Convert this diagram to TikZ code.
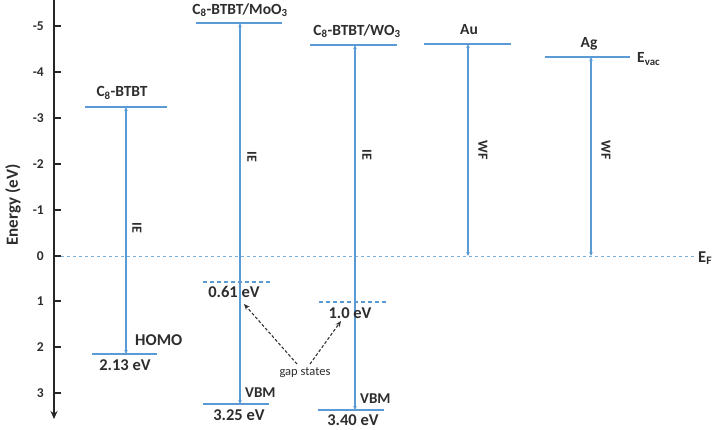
\documentclass[tikz,border=0pt]{standalone}
\usepackage{fontspec}
\setmainfont{Carlito}
\usetikzlibrary{arrows.meta}
\definecolor{lvl}{RGB}{91,155,213}
\definecolor{txt}{RGB}{45,45,45}
\tikzset{
  level/.style={draw=lvl, line width=2pt},
  gaplevel/.style={draw=lvl, line width=1.5pt, dash pattern=on 4pt off 3pt},
  fermi/.style={draw=lvl!80, line width=0.8pt, dash pattern=on 3pt off 3pt},
  ener/.style={draw=lvl, line width=1.5pt, {Stealth[length=4pt,width=3.5pt]}-{Stealth[length=4pt,width=3.5pt]}},
  gaparrow/.style={draw=black!80, line width=1.1pt, dash pattern=on 3pt off 2pt, -{Stealth[length=6pt,width=5pt]}},
  ttl/.style={text=txt, font=\fontsize{15.5}{17}\selectfont\bfseries, inner sep=1pt},
  blab/.style={text=txt, font=\fontsize{16.5}{18}\selectfont\bfseries, inner sep=1pt},
  vbm/.style={text=txt, font=\fontsize{15}{17}\selectfont\bfseries, inner sep=1pt},
  tick/.style={text=txt, font=\fontsize{13.5}{15}\selectfont\bfseries, anchor=east, inner sep=1pt},
  rlab/.style={text=txt, font=\fontsize{14}{16}\selectfont\bfseries, rotate=-90, inner sep=1pt},
}
\begin{document}
\begin{tikzpicture}[x=1pt,y=-1pt]
\useasboundingbox (0,0) rectangle (719,430);
% axis
\coordinate (axtop) at (54,0);
\coordinate (axbot) at (54,419);
\draw[black!85, line width=1.4pt, -{Stealth[length=8pt,width=7pt]}] (axtop) -- (axbot);
\foreach \v/\y in {-5/26,-4/72,-3/118,-2/164,-1/210,0/256,1/301,2/347,3/393}{
  \draw[black!85, line width=1.2pt] (54,\y) -- (61,\y);
  \node[tick] at (45,\y) {\v};
}
\node[text=txt, font=\fontsize{17}{19}\selectfont\bfseries, rotate=90] (ylab) at (13,205) {Energy (eV)};
% Fermi level
\coordinate (efL) at (61,256);
\coordinate (efR) at (695,256);
\draw[fermi] (efL) -- (efR);
\node[blab, anchor=west] (ef) at (697,258) {E\textsubscript{F}};

% C8-BTBT
\draw[level] (85,107) -- (167,107);
\draw[level] (92,354) -- (157,354);
\coordinate (b1t) at (126,107);
\coordinate (b1b) at (126,354);
\draw[ener] (b1t) -- (b1b);
\node[ttl] (n1) at (122,93) {C\textsubscript{8}-BTBT};
\node[blab, anchor=west] (homo) at (134,340) {HOMO};
\node[blab] (v1) at (125,365) {2.13 eV};
\node[rlab] (ie1) at (137,228) {IE};

% C8-BTBT/MoO3
\draw[level] (196,23) -- (282,23);
\draw[level] (203,404) -- (269,404);
\draw[gaplevel] (203,282) -- (271,282);
\coordinate (b2t) at (240,23);
\coordinate (b2b) at (240,404);
\draw[ener] (b2t) -- (b2b);
\node[ttl] (n2) at (240,10) {C\textsubscript{8}-BTBT/MoO\textsubscript{3}};
\node[vbm, anchor=west] (vbm2) at (244,393) {VBM};
\node[blab] (v2) at (239,415) {3.25 eV};
\node[blab] (g2) at (234,292) {0.61 eV};
\node[rlab] (ie2) at (252,157) {IE};

% C8-BTBT/WO3
\draw[level] (310,45) -- (397,45);
\draw[level] (318,410) -- (384,410);
\draw[gaplevel] (319,302) -- (387,302);
\coordinate (b3t) at (355,45);
\coordinate (b3b) at (355,410);
\draw[ener] (b3t) -- (b3b);
\node[ttl] (n3) at (357,31) {C\textsubscript{8}-BTBT/WO\textsubscript{3}};
\node[vbm, anchor=west] (vbm3) at (359,399) {VBM};
\node[blab, inner sep=0pt] (v3) at (353,420) {3.40 eV};
\node[blab] (g3) at (350,313) {1.0 eV};
\node[rlab] (ie3) at (367,155) {IE};

% gap states
\node[text=txt, font=\fontsize{12.5}{14}\selectfont] (gs) at (305,373) {gap states};
\coordinate (gsL) at (297,364);
\coordinate (gsR) at (310,364);
\coordinate (gaL) at (244,304);
\coordinate (gaR) at (341,321);
\draw[gaparrow] (gsL) -- (gaL);
\draw[gaparrow] (gsR) -- (gaR);

% Au
\draw[level] (424,44) -- (511,44);
\coordinate (aut) at (468,44);
\coordinate (aub) at (468,256);
\draw[ener] (aut) -- (aub);
\node[ttl] (au) at (469,30) {Au};
\node[rlab] (wf1) at (483,150) {WF};

% Ag
\draw[level] (545,57) -- (630,57);
\coordinate (agt) at (591,57);
\coordinate (agb) at (591,256);
\draw[ener] (agt) -- (agb);
\node[ttl] (ag) at (589,44) {Ag};
\node[ttl, anchor=west] (evac) at (636,59) {E\textsubscript{vac}};
\node[rlab] (wf2) at (606,150) {WF};
\end{tikzpicture}
\end{document}
